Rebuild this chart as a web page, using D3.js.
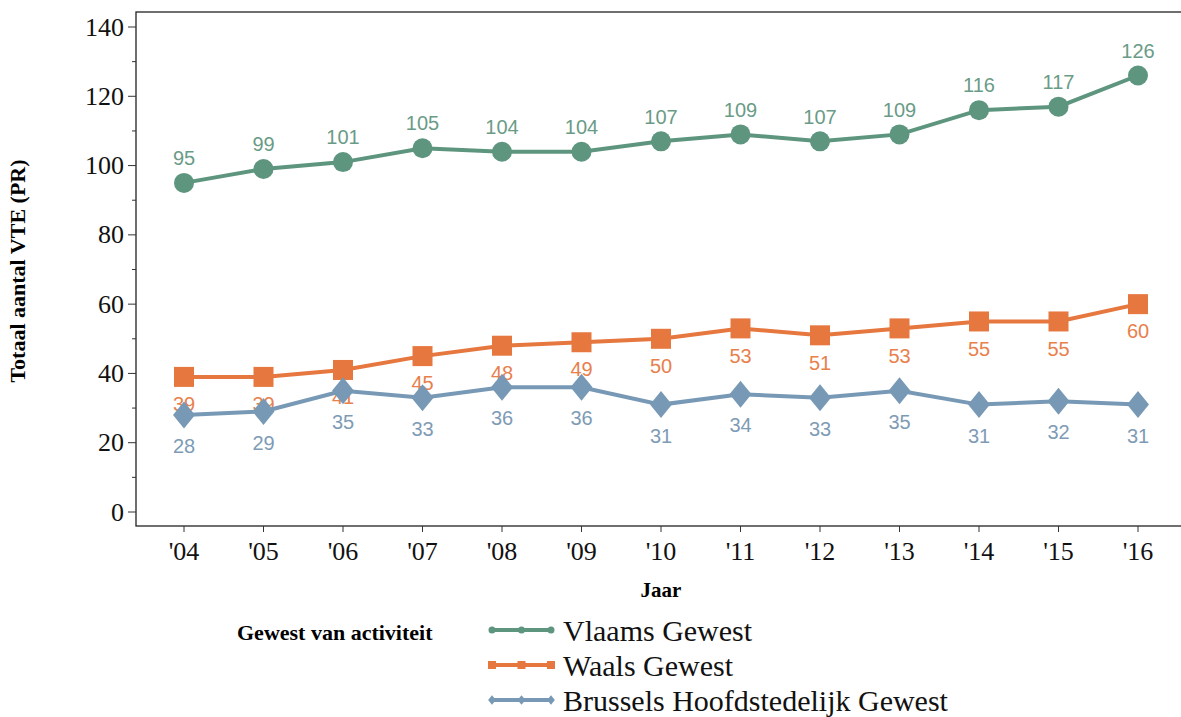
<!DOCTYPE html>
<html>
<head>
<meta charset="utf-8">
<script src="https://d3js.org/d3.v7.min.js"></script>
<style>
  body { margin: 0; background: #fff; }
  svg text { font-family: "Liberation Serif", "Times New Roman", serif; }
</style>
</head>
<body>
<div id="chart"></div>
<script>
// data
var years = ["'04", "'05", "'06", "'07", "'08", "'09", "'10", "'11", "'12", "'13", "'14", "'15", "'16"];
var vlaams = [95, 99, 101, 105, 104, 104, 107, 109, 107, 109, 116, 117, 126];
var waals = [39, 39, 41, 45, 48, 49, 50, 53, 51, 53, 55, 55, 60];
var brussel = [28, 29, 35, 33, 36, 36, 31, 34, 33, 35, 31, 32, 31];
var yTicks = [0, 20, 40, 60, 80, 100, 120, 140];
var seriesNames = ["Vlaams Gewest", "Waals Gewest", "Brussels Hoofdstedelijk Gewest"];

var W = 1181, H = 717;
var frame = {left: 136, top: 12, right: 1183, bottom: 526};

var series = [
  {name: seriesNames[0], values: vlaams, color: "#5e957f", label: "#6a9b87", shape: "circle", dy: -25},
  {name: seriesNames[1], values: waals, color: "#e5773f", label: "#e8804c", shape: "square", dy: 27},
  {name: seriesNames[2], values: brussel, color: "#7799b5", label: "#7e9bb5", shape: "diamond", dy: 31}
];

var svg = d3.select("#chart").append("svg")
    .attr("width", W)
    .attr("height", H);

var x = d3.scalePoint()
    .domain(years)
    .range([184, 1138]);

var y = d3.scaleLinear()
    .domain([0, 140])
    .range([512, 27]);

// frame
svg.append("rect")
    .attr("x", frame.left).attr("y", frame.top)
    .attr("width", frame.right - frame.left)
    .attr("height", frame.bottom - frame.top)
    .attr("fill", "none")
    .attr("stroke", "#222")
    .attr("stroke-width", 1.3);

// y axis: major ticks with labels, minor ticks in between
var yAxis = svg.append("g")
    .attr("transform", "translate(" + frame.left + ",0)");
yAxis.selectAll(".minor")
    .data(d3.range(10, 140, 20))
    .enter().append("line")
      .attr("x1", -4).attr("x2", 0)
      .attr("y1", function(d) { return y(d); })
      .attr("y2", function(d) { return y(d); })
      .attr("stroke", "#333").attr("stroke-width", 1);
yAxis.selectAll(".major")
    .data(yTicks)
    .enter().append("line")
      .attr("x1", -8).attr("x2", 0)
      .attr("y1", function(d) { return y(d); })
      .attr("y2", function(d) { return y(d); })
      .attr("stroke", "#333").attr("stroke-width", 1);
yAxis.selectAll("text")
    .data(yTicks)
    .enter().append("text")
      .attr("x", -12)
      .attr("y", function(d) { return y(d); })
      .attr("dy", "0.33em")
      .attr("text-anchor", "end")
      .style("font-size", "26px")
      .attr("fill", "#111")
      .text(function(d) { return d; });

// x axis
var xAxis = svg.append("g")
    .attr("transform", "translate(0," + frame.bottom + ")");
xAxis.selectAll("line")
    .data(years)
    .enter().append("line")
      .attr("x1", function(d) { return x(d); })
      .attr("x2", function(d) { return x(d); })
      .attr("y1", 0).attr("y2", 6)
      .attr("stroke", "#333").attr("stroke-width", 1);
xAxis.selectAll("text")
    .data(years)
    .enter().append("text")
      .attr("x", function(d) { return x(d); })
      .attr("y", 34)
      .attr("text-anchor", "middle")
      .style("font-size", "26px")
      .attr("fill", "#111")
      .text(function(d) { return d; });

// axis titles
svg.append("text")
    .attr("transform", "translate(25,271) rotate(-90)")
    .attr("text-anchor", "middle")
    .style("font-size", "22px")
    .style("font-weight", "bold")
    .text("Totaal aantal VTE (PR)");

svg.append("text")
    .attr("x", 661).attr("y", 597)
    .attr("text-anchor", "middle")
    .style("font-size", "21px")
    .style("font-weight", "bold")
    .text("Jaar");

function marker(g, shape, color, size) {
  if (shape == "circle") {
    return g.append("circle").attr("r", size).attr("fill", color);
  } else if (shape == "square") {
    return g.append("rect")
      .attr("x", -size).attr("y", -size)
      .attr("width", 2 * size).attr("height", 2 * size)
      .attr("fill", color);
  } else {
    var w = size * 1.1, h = size * 1.35;
    return g.append("path")
      .attr("d", "M0," + (-h) + "L" + w + ",0L0," + h + "L" + (-w) + ",0Z")
      .attr("fill", color);
  }
}

var line = d3.line()
    .x(function(d, i) { return x(years[i]); })
    .y(function(d) { return y(d); });

// draw each series: line, markers, value labels
series.forEach(function(s) {
  var g = svg.append("g");
  g.append("path")
    .datum(s.values)
    .attr("d", line)
    .attr("fill", "none")
    .attr("stroke", s.color)
    .attr("stroke-width", 4);

  s.values.forEach(function(v, i) {
    var m = g.append("g")
      .attr("transform", "translate(" + x(years[i]) + "," + y(v) + ")");
    marker(m, s.shape, s.color, 10);
  });

  g.selectAll("text")
    .data(s.values)
    .enter().append("text")
      .attr("x", function(d, i) { return x(years[i]); })
      .attr("y", function(d) { return y(d) + s.dy; })
      .attr("dy", "0.36em")
      .attr("text-anchor", "middle")
      .style("font-family", "'Liberation Sans', Arial, sans-serif")
      .style("font-size", "20px")
      .attr("fill", s.label)
      .text(function(d) { return d; });
});

// legend
var legend = svg.append("g");
legend.append("text")
    .attr("x", 237).attr("y", 640)
    .style("font-size", "22px")
    .style("font-weight", "bold")
    .text("Gewest van activiteit");

series.forEach(function(s, i) {
  var ly = 630 + i * 35;
  var lg = legend.append("g");
  lg.append("line")
    .attr("x1", 491).attr("x2", 552)
    .attr("y1", ly).attr("y2", ly)
    .attr("stroke", s.color)
    .attr("stroke-width", 4);
  [492, 521.5, 551].forEach(function(px) {
    var m = lg.append("g").attr("transform", "translate(" + px + "," + ly + ")");
    marker(m, s.shape, s.color, s.shape == "square" ? 4 : 3.5);
  });
  lg.append("text")
    .attr("x", 563).attr("y", ly + 11)
    .style("font-size", "30px")
    .attr("fill", "#111")
    .text(s.name);
});
</script>
</body>
</html>
